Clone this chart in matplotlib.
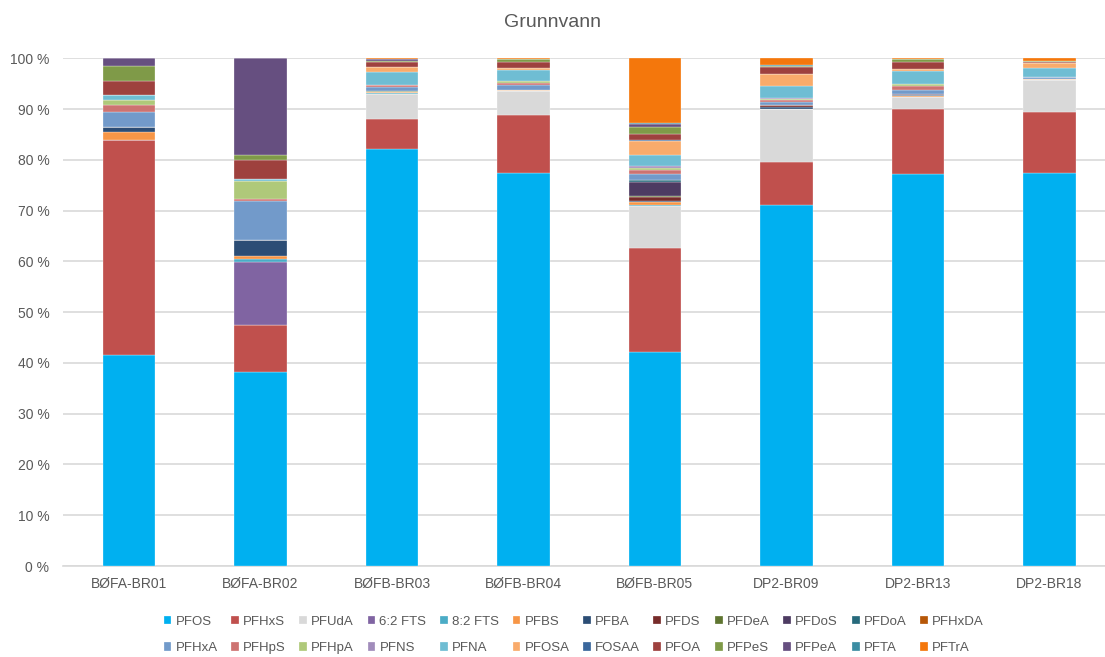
# plot.py
# Grunnvann - stablet 100 % søylediagram av PFAS-fordeling

import matplotlib.pyplot as plt
import numpy as np

plt.rcParams['font.family'] = ['Liberation Sans', 'DejaVu Sans']

# prøvepunkter
stations = ['BØFA-BR01', 'BØFA-BR02', 'BØFB-BR03', 'BØFB-BR04',
            'BØFB-BR05', 'DP2-BR09', 'DP2-BR13', 'DP2-BR18']

# andel (%) per stoff, en verdi per prøvepunkt
PFOS   = [41.6, 38.3, 82.2, 77.5, 42.1, 71.1, 77.3, 77.5]
PFHxS  = [42.3,  9.2,  5.9, 11.3, 20.6,  8.5, 12.8, 11.9]
PFUdA  = [ 0.0,  0.0,  4.9,  4.7,  8.2, 10.5,  2.3,  6.3]
FTS62  = [ 0.0, 12.4,  0.0,  0.0,  0.0,  0.0,  0.0,  0.0]
FTS82  = [ 0.0,  0.6,  0.1,  0.0,  0.3,  0.0,  0.0,  0.0]
PFBS   = [ 1.6,  0.6,  0.2,  0.3,  0.5,  0.0,  0.2,  0.3]
PFBA   = [ 1.0,  3.1,  0.0,  0.0,  0.2,  0.3,  0.3,  0.0]
PFDS   = [ 0.0,  0.0,  0.0,  0.0,  0.8,  0.4,  0.0,  0.0]
PFDeA  = [ 0.0,  0.0,  0.2,  0.0,  0.3,  0.0,  0.0,  0.0]
PFDoS  = [ 0.0,  0.0,  0.0,  0.0,  2.6,  0.1,  0.1,  0.0]
PFDoA  = [ 0.0,  0.0,  0.0,  0.0,  0.5,  0.0,  0.0,  0.0]
PFHxDA = [ 0.0,  0.0,  0.0,  0.0,  0.0,  0.0,  0.0,  0.0]
PFHxA  = [ 2.9,  7.7,  0.9,  1.0,  1.1,  0.5,  0.8,  0.4]
PFHpS  = [ 1.5,  0.5,  0.4,  0.4,  0.9,  0.4,  0.8,  0.0]
PFHpA  = [ 1.0,  3.4,  0.0,  0.3,  0.4,  0.3,  0.3,  0.0]
PFNS   = [ 0.0,  0.0,  0.0,  0.0,  0.3,  0.2,  0.0,  0.0]
PFNA   = [ 1.0,  0.5,  2.5,  2.3,  2.1,  2.2,  2.7,  1.7]
PFOSA  = [ 0.0,  0.0,  1.0,  0.3,  2.9,  2.5,  0.3,  1.0]
FOSAA  = [ 0.0,  0.0,  0.0,  0.0,  0.1,  0.0,  0.0,  0.0]
PFOA   = [ 2.6,  3.6,  1.0,  1.3,  1.3,  1.3,  1.4,  0.2]
PFPeS  = [ 3.1,  1.0,  0.3,  0.4,  1.3,  0.3,  0.5,  0.3]
PFPeA  = [ 1.4, 19.1,  0.2,  0.1,  0.5,  0.0,  0.1,  0.0]
PFTA   = [ 0.0,  0.0,  0.0,  0.0,  0.2,  0.2,  0.0,  0.0]
PFTrA  = [ 0.0,  0.0,  0.2,  0.1, 12.8,  1.2,  0.2,  0.4]

series = [
    ('PFOS', PFOS, '#00B0F0'),
    ('PFHxS', PFHxS, '#C0504D'),
    ('PFUdA', PFUdA, '#D9D9D9'),
    ('6:2 FTS', FTS62, '#8064A2'),
    ('8:2 FTS', FTS82, '#4BACC6'),
    ('PFBS', PFBS, '#F79646'),
    ('PFBA', PFBA, '#2C4D75'),
    ('PFDS', PFDS, '#772C2A'),
    ('PFDeA', PFDeA, '#5F7530'),
    ('PFDoS', PFDoS, '#4D3B62'),
    ('PFDoA', PFDoA, '#276A7C'),
    ('PFHxDA', PFHxDA, '#B65708'),
    ('PFHxA', PFHxA, '#729ACA'),
    ('PFHpS', PFHpS, '#CD7371'),
    ('PFHpA', PFHpA, '#AFC97A'),
    ('PFNS', PFNS, '#A18CBB'),
    ('PFNA', PFNA, '#6FBDD3'),
    ('PFOSA', PFOSA, '#F9AB6B'),
    ('FOSAA', FOSAA, '#3A679C'),
    ('PFOA', PFOA, '#9E413E'),
    ('PFPeS', PFPeS, '#7F9A48'),
    ('PFPeA', PFPeA, '#664F80'),
    ('PFTA', PFTA, '#3C8DA3'),
    ('PFTrA', PFTrA, '#F4770C'),
]

fig = plt.figure(figsize=(11.05, 6.57), dpi=100)
ax = fig.add_axes([0.0573, 0.1385, 0.9518, 0.7725])

x = np.arange(len(stations))
bottom = np.zeros(len(stations))
handles = []
for name, vals, color in series:
    vals = np.array(vals)
    b = ax.bar(x, vals, 0.4, bottom=bottom, color=color, label=name,
               edgecolor='white', linewidth=0.2, zorder=3)
    bottom += vals
    handles.append(b)

ax.set_xlim(-0.5, len(stations) - 0.5)
ax.set_ylim(0, 100)
ax.set_yticks(np.arange(0, 101, 10))
ax.set_yticklabels([f'{v} %' for v in range(0, 101, 10)])
ax.set_xticks(x)
ax.set_xticklabels(stations)
ax.tick_params(length=0, labelsize=10, colors='#595959')
ax.tick_params(axis='x', pad=8)
ax.tick_params(axis='y', pad=10)

ax.grid(axis='y', color='#D9D9D9', linewidth=1.2, zorder=0)
for s in ['top', 'right', 'left']:
    ax.spines[s].set_visible(False)
ax.spines['bottom'].set_color('#D9D9D9')
ax.spines['bottom'].set_linewidth(1.2)

fig.text(0.5, 0.965, 'Grunnvann', ha='center', va='center',
         fontsize=14, color='#595959')

# legende: to rader, fylles kolonnevis -> flett rad 1 og rad 2
n = len(series) // 2
order = []
for i in range(n):
    order += [i, i + n]
leg = fig.legend([handles[i] for i in order], [series[i][0] for i in order],
                 ncol=n, loc='upper center', bbox_to_anchor=(0.519, 0.073),
                 frameon=False, fontsize=9.5, handlelength=0.6,
                 handleheight=0.6, handletextpad=0.3, columnspacing=1.03,
                 labelspacing=1.1, borderpad=0)
for t in leg.get_texts():
    t.set_color('#595959')

plt.savefig('out.png', dpi=100)
